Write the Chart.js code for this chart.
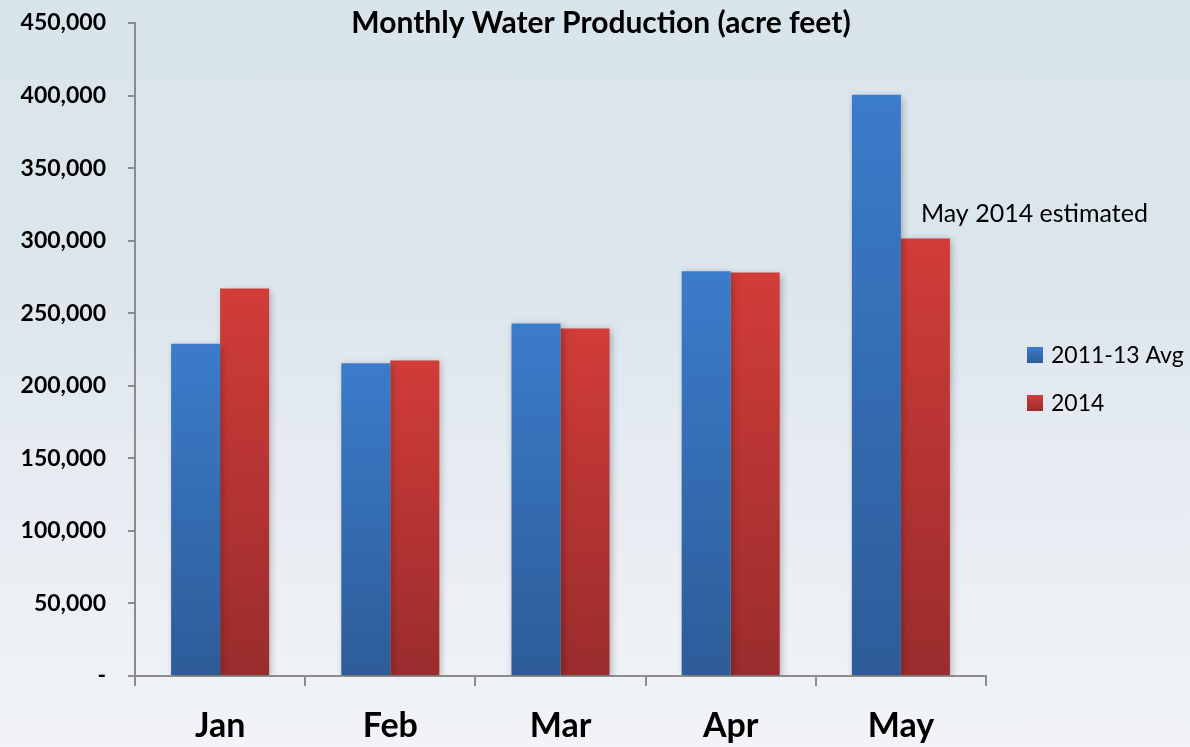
<!DOCTYPE html>
<html>
<head>
<meta charset="utf-8">
<script src="https://cdn.jsdelivr.net/npm/chart.js@4.4.1/dist/chart.umd.min.js"></script>
<style>
  html, body { margin: 0; padding: 0; }
  body { width: 1190px; height: 747px; overflow: hidden; }
  #wrap {
    width: 1190px; height: 747px;
    background: linear-gradient(180deg, #d8e4eb 0%, #dde6ed 40%, #e9edf3 70%, #f1f3f7 100%);
  }
</style>
</head>
<body>
<div id="wrap"><canvas id="chart" width="1190" height="747"></canvas></div>
<script>
// ---- data ----
const months = ["Jan", "Feb", "Mar", "Apr", "May"];
const avg2011to13 = [229000, 215500, 243000, 279000, 400500];
const prod2014 = [267000, 217500, 239500, 278000, 301500];
const seriesNames = ["2011-13 Avg", "2014"];
const chartTitle = "Monthly Water Production (acre feet)";
const noteText = "May 2014 estimated";

const FONT = "Lato, 'Open Sans', sans-serif";
const AXIS_GREY = "#8c8c8c";

// couleurs haut / bas du dégradé
const blueTop = "#3b7ccb", blueBot = "#2d5c98";
const redTop = "#d13c38", redBot = "#9a2c2d";

function barFill(top, bot) {
  return (c) => {
    const chart = c.chart;
    if (!chart.chartArea || c.raw == null) return top;
    const y = chart.scales.y;
    const yTop = y.getPixelForValue(c.raw);
    const yBot = y.getPixelForValue(0);
    const g = chart.ctx.createLinearGradient(0, yTop, 0, yBot);
    g.addColorStop(0, top);
    g.addColorStop(1, bot);
    return g;
  };
}

// ombre douce sous les barres
const shadowPlugin = {
  id: "barShadow",
  beforeDatasetsDraw(chart) {
    const ctx = chart.ctx;
    ctx.save();
    ctx.shadowColor = "rgba(0,0,0,0.28)";
    ctx.shadowBlur = 7;
    ctx.shadowOffsetX = 2;
    ctx.shadowOffsetY = 2;
  },
  afterDatasetsDraw(chart) {
    chart.ctx.restore();
  }
};

// titre, note et légende dessinés à la main
const textPlugin = {
  id: "extraText",
  afterDraw(chart) {
    const ctx = chart.ctx;
    ctx.save();
    ctx.fillStyle = "#000";

    ctx.font = "bold 30px " + FONT;
    ctx.textAlign = "center";
    ctx.textBaseline = "alphabetic";
    ctx.fillText(chartTitle, 601, 33);

    // note au dessus de la barre rouge de mai
    const bar = chart.getDatasetMeta(1).data[4];
    ctx.font = "25px " + FONT;
    ctx.textAlign = "left";
    ctx.fillText(noteText, bar.x - bar.width / 2 + 20, bar.y - 16);

    // légende
    const tops = [blueTop, redTop], bots = [blueBot, redBot];
    ctx.font = "23px " + FONT;
    seriesNames.forEach((name, i) => {
      const y = 347 + i * 48;
      const g = ctx.createLinearGradient(0, y, 0, y + 16);
      g.addColorStop(0, tops[i]);
      g.addColorStop(1, bots[i]);
      ctx.fillStyle = g;
      ctx.fillRect(1027, y, 16, 16);
      ctx.fillStyle = "#000";
      ctx.fillText(name, 1051, y + 16);
    });
    ctx.restore();
  }
};

new Chart(document.getElementById("chart"), {
  type: "bar",
  data: {
    labels: months,
    datasets: [
      {
        label: seriesNames[0],
        data: avg2011to13,
        backgroundColor: barFill(blueTop, blueBot),
        categoryPercentage: 0.576,
        barPercentage: 1.0
      },
      {
        label: seriesNames[1],
        data: prod2014,
        backgroundColor: barFill(redTop, redBot),
        categoryPercentage: 0.576,
        barPercentage: 1.0
      }
    ]
  },
  options: {
    responsive: false,
    animation: false,
    layout: { padding: { top: 23, right: 204, left: 0, bottom: 0 } },
    plugins: {
      legend: { display: false },
      tooltip: { enabled: false }
    },
    scales: {
      x: {
        grid: {
          drawOnChartArea: false,
          drawTicks: true,
          tickLength: 10,
          color: AXIS_GREY,
          lineWidth: 2
        },
        border: { display: true, color: AXIS_GREY, width: 2 },
        ticks: {
          color: "#000",
          font: { family: FONT, size: 34, weight: "bold" },
          padding: 20
        },
        afterFit(scale) { scale.height = 71; }
      },
      y: {
        min: 0,
        max: 450000,
        grid: {
          drawOnChartArea: false,
          drawTicks: true,
          tickLength: 7,
          color: AXIS_GREY,
          lineWidth: 2
        },
        border: { display: true, color: AXIS_GREY, width: 2 },
        ticks: {
          stepSize: 50000,
          color: "#000",
          padding: 22,
          font: { family: FONT, size: 23, weight: "bold" },
          callback: (v) => v === 0 ? "-" : v.toLocaleString("en-US")
        },
        afterFit(scale) {
          scale.width = 135;
          // le padding des étiquettes ne doit pas décaler le haut du graphe
          scale.paddingTop = 0;
          scale.paddingBottom = 0;
        }
      }
    }
  },
  plugins: [shadowPlugin, textPlugin]
});
</script>
</body>
</html>
